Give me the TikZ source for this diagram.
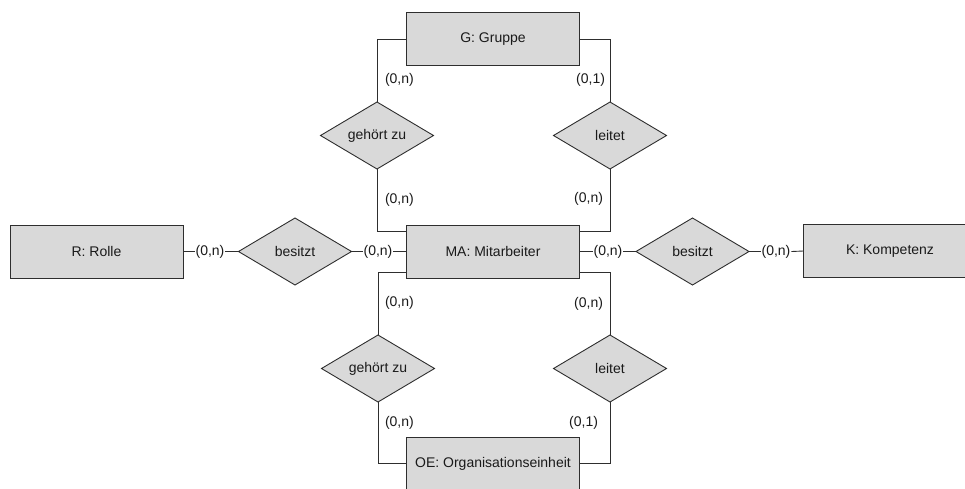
\documentclass[tikz,border=0pt]{standalone}
\usepackage{fontspec}
\setmainfont{Liberation Sans}
\usetikzlibrary{shapes.geometric}
\definecolor{boxfill}{HTML}{D9D9D9}
\definecolor{edge}{HTML}{2E2E2E}
\definecolor{ink}{HTML}{1A1A1A}
\begin{document}
\begin{tikzpicture}[x=1pt,y=-1pt,
  font=\fontsize{14}{16}\selectfont,
  entity/.style={draw=edge,fill=boxfill,line width=1pt,text=ink,
    minimum width=173pt,minimum height=53pt,inner sep=0pt,outer sep=0pt},
  relation/.style={diamond,draw=edge,fill=boxfill,line width=0.9pt,text=ink,
    minimum width=113pt,minimum height=67pt,aspect=1.69,inner sep=0pt,outer sep=0pt},
  card/.style={text=ink,inner sep=1pt,outer sep=0pt},
  link/.style={draw=edge,line width=0.9pt}]
\useasboundingbox (0,0) rectangle (965,488);
\clip (0,0) rectangle (965,488);

% entities
\node[entity] (G)  at (493,39)    {G: Gruppe};
\node[entity] (MA) at (493,251.5) {MA: Mitarbeiter};
\node[entity] (OE) at (493,463.5) {OE: Organisationseinheit};
\node[entity] (R)  at (96.5,251.5) {R: Rolle};
\node[entity] (K)  at (890,251)   {K: Kompetenz};

% relationships
\node[relation] (gz1) at (377,135.5) {gehört zu};
\node[relation] (le1) at (610,135.5) {leitet};
\node[relation] (gz2) at (378,368.5) {gehört zu};
\node[relation] (le2) at (610,368.5) {leitet};
\node[relation] (bsR) at (295,251.5) {besitzt};
\node[relation] (bsK) at (692.5,251.5) {besitzt};

% attachment points on the sides of MA
\coordinate (MAwt) at (407,231);
\coordinate (MAwb) at (407,272);
\coordinate (MAet) at (579,231);
\coordinate (MAeb) at (579,272);

% vertical connectors
\draw[link] (G.west) -| (gz1.north);
\draw[link] (G.east) -| (le1.north);
\draw[link] (gz1.south) |- (MAwt);
\draw[link] (le1.south) |- (MAet);
\draw[link] (MAwb) -| (gz2.north);
\draw[link] (MAeb) -| (le2.north);
\draw[link] (gz2.south) |- (OE.west);
\draw[link] (le2.south) |- (OE.east);

% cardinalities on vertical connectors
\node[card,anchor=west] (c1) at (384,80)  {(0,n)};
\node[card,anchor=east] (c2) at (606,80)  {(0,1)};
\node[card,anchor=west] (c3) at (384,200) {(0,n)};
\node[card,anchor=east] (c4) at (604,199) {(0,n)};
\node[card,anchor=west] (c5) at (384,303) {(0,n)};
\node[card,anchor=east] (c6) at (604,304) {(0,n)};
\node[card,anchor=west] (c7) at (384,423) {(0,n)};
\node[card,anchor=east] (c8) at (599,423) {(0,1)};

% horizontal connectors with inline cardinalities
\node[card] (h1) at (210,251.5) {(0,n)};
\node[card] (h2) at (378,251.5) {(0,n)};
\node[card] (h3) at (608,251.5) {(0,n)};
\node[card] (h4) at (776,251.5) {(0,n)};
\draw[link] (R.east) -- (h1.west);
\draw[link] (h1.east) -- (bsR.west);
\draw[link] (bsR.east) -- (h2.west);
\draw[link] (h2.east) -- (MA.west);
\draw[link] (MA.east) -- (h3.west);
\draw[link] (h3.east) -- (bsK.west);
\draw[link] (bsK.east) -- (h4.west);
\draw[link] (h4.east) -- (K.west);
\end{tikzpicture}
\end{document}
